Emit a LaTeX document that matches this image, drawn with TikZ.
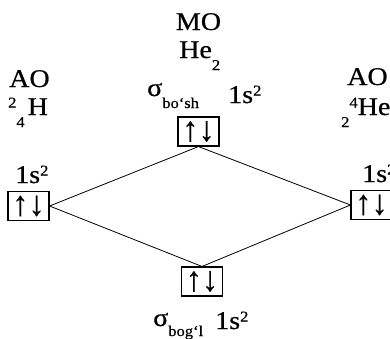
\documentclass[tikz,border=0pt]{standalone}
\usepackage{fontspec}
\usepackage{graphicx}
\setmainfont{Liberation Serif}[FakeStretch=1.1,FakeBold=0.6]
\newfontfamily\arrfont{Liberation Serif}[FakeBold=0.3]
\newcommand\supt[1]{\raisebox{7.5pt}{\fontsize{15}{15}\selectfont #1}}
\newcommand\subt[1]{\raisebox{-12pt}{\fontsize{15}{15}\selectfont #1}}
\newcommand\spinpair{\raisebox{-0.5pt}{\scalebox{1.3}[1.45]{↑\hspace{0.5pt}↓}}}
\begin{document}
\begin{tikzpicture}[x=1pt,y=-1pt,
  every node/.style={inner sep=0pt, font=\fontsize{25.5}{25.5}\selectfont},
  lbl/.style={anchor=base west},
  orb/.style={draw, line width=1.1pt, minimum width=41pt, minimum height=29pt, inner sep=0pt, font=\arrfont\fontsize{24}{24}\selectfont},
  conn/.style={line width=0.8pt}]
\useasboundingbox (0,0) rectangle (390,338);
% orbital boxes
\node[orb] (L) at (28.5,206) {\spinpair};
\node[orb] (R) at (371.5,205) {\spinpair};
\node[orb] (T) at (198.5,131.5) {\spinpair};
\node[orb] (B) at (202,281.5) {\spinpair};
% connectors
\draw[conn] (L.east) -- (T.south) -- (R.west);
\draw[conn] (L.east) -- (B.north) -- (R.west);
% headings
\node[anchor=base] (mo) at (198.5,30) {MO};
\node[lbl] (he2) at (179,58) {He\subt{2}};
\node[lbl] (aoL) at (9,87) {AO};
\node[lbl] (hL) at (8,115) {\supt{2}\subt{4}\hspace{3pt}H};
\node[lbl] (aoR) at (347,85) {AO};
\node[lbl] (heR) at (341,115) {\subt{2}\supt{4}He};
% level labels
\node[lbl] (sL) at (15,183) {1s\supt{2}};
\node[lbl] (sR) at (362,182) {1s\supt{2}};
\node[lbl] (sigT) at (147,96) {σ\subt{bo‘sh}};
\node[lbl] (sT) at (228,103) {1s\supt{2}};
\node[lbl] (sigB) at (153,326) {σ\raisebox{-10pt}{\fontsize{15}{15}\selectfont bog‘l}};
\node[lbl] (sB) at (215,329) {1s\supt{2}};
\end{tikzpicture}
\end{document}
